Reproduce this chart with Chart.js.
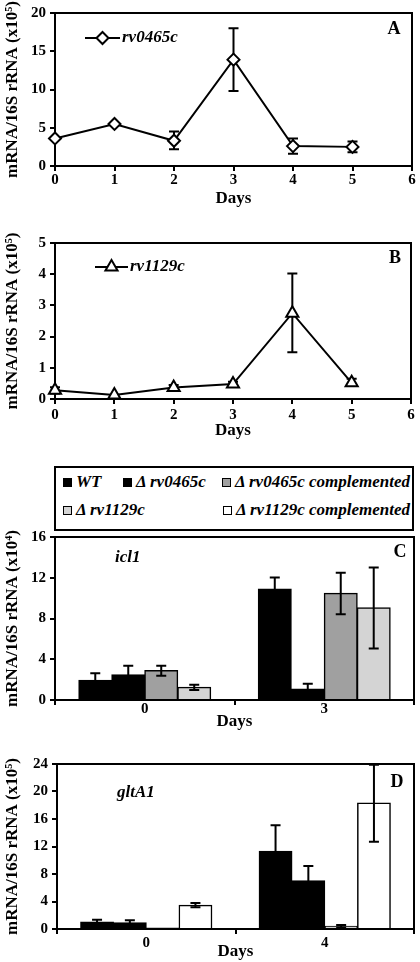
<!DOCTYPE html>
<html>
<head>
<meta charset="utf-8">
<title>mRNA/16S rRNA expression</title>
<script src="https://cdn.jsdelivr.net/npm/chart.js"></script>
<style>
    * { margin: 0; padding: 0; box-sizing: border-box; }
    body {
        width: 420px;
        height: 962px;
        background: #fff;
        position: relative;
        overflow: hidden;
        font-family: "Liberation Serif", serif;
    }
    canvas { position: absolute; left: 0; }
    #legendC {
        position: absolute;
        left: 54px;
        top: 466px;
        width: 360px;
        height: 65px;
        border: 2px solid #000;
        background: #fff;
        z-index: 2;
    }
    .item {
        position: absolute;
        display: flex;
        align-items: center;
        font: italic bold 17px "Liberation Serif", serif;
        line-height: 20px;
        white-space: nowrap;
        color: #000;
    }
    .sw { width: 9px; height: 9px; border: 1px solid #000; margin-right: 4px; }
</style>
</head>
<body>
    <canvas id="chartA" width="420" height="210" style="top:0"></canvas>
    <canvas id="chartB" width="420" height="226" style="top:215px"></canvas>
    <div id="legendC"></div>
    <canvas id="chartC" width="420" height="211" style="top:524px"></canvas>
    <canvas id="chartD" width="420" height="222" style="top:740px"></canvas>

<script>
    // --- data ---
    const days = [0, 1, 2, 3, 4, 5];
    const rv0465cMean = [3.6, 5.5, 3.3, 13.9, 2.6, 2.5];
    const rv0465cHigh = [null, null, 4.5, 18.0, 3.6, 3.2];
    const rv0465cLow  = [null, null, 2.2, 9.8, 1.6, 1.8];

    const rv1129cMean = [0.28, 0.13, 0.37, 0.48, 2.75, 0.52];
    const rv1129cHigh = [0.38, null, 0.45, 0.55, 4.02, 0.65];
    const rv1129cLow  = [0.18, null, 0.30, 0.42, 1.50, 0.45];

    const strains = ['WT', 'Δ rv0465c', 'Δ rv0465c complemented', 'Δ rv1129c', 'Δ rv1129c complemented'];

    // icl1 (x10^4), series index into strains
    const icl1Days = ['0', '3'];
    const icl1Series = [0, 1, 2, 3];
    const icl1Mean = [[1.94, 10.9], [2.48, 1.08], [2.89, 10.48], [1.24, 9.05]];
    const icl1High = [[2.63, 12.03], [3.37, 1.59], [3.37, 12.48], [1.49, 13.0]];
    const icl1Low  = [[1.25, 9.8], [1.6, 0.57], [2.38, 8.41], [0.98, 5.05]];

    // gltA1 (x10^5)
    const gltA1Days = ['0', '4'];
    const gltA1Series = [0, 1, 3, 4];
    const gltA1Mean = [[1.02, 11.3], [0.92, 7.03], [0.15, 0.39], [3.44, 18.33]];
    const gltA1High = [[1.36, 15.08], [1.26, 9.16], [null, 0.6], [3.78, 23.9]];
    const gltA1Low  = [[0.68, 7.5], [0.58, 4.9], [null, 0.2], [3.15, 12.7]];

    // --- styles ---
    const strainColors = ['#000000', '#000000', '#a0a0a0', '#d4d4d4', '#ffffff'];
    const SERIF = "'Liberation Serif', serif";
    Chart.defaults.font.family = SERIF;
    Chart.defaults.color = '#000';

    const tickFont = { family: SERIF, size: 15, weight: 'bold' };
    const titleFont = { family: SERIF, size: 17, weight: 'bold' };
    const yTitleFont = { family: SERIF, size: 17, weight: 'bold' };
    const italicFont = 'italic bold 17px ' + SERIF;
    const letterFont = 'bold 18px ' + SERIF;

    // box round the plot area
    const framePlugin = {
        id: 'frame',
        beforeDatasetsDraw(chart) {
            const { ctx, chartArea: a } = chart;
            ctx.save();
            ctx.strokeStyle = '#000';
            ctx.lineWidth = 2;
            ctx.strokeRect(a.left, a.top, a.right - a.left, a.bottom - a.top);
            ctx.restore();
        }
    };

    function drawErrors(chart, opts) {
        const { ctx } = chart;
        const y = chart.scales.y;
        ctx.save();
        ctx.strokeStyle = '#000';
        ctx.lineWidth = 2;
        chart.data.datasets.forEach((ds, i) => {
            if (!ds.errHigh) return;
            chart.getDatasetMeta(i).data.forEach((el, j) => {
                const hi = ds.errHigh[j], lo = ds.errLow[j];
                if (hi == null) return;
                const yh = y.getPixelForValue(hi), yl = y.getPixelForValue(lo);
                ctx.beginPath();
                ctx.moveTo(el.x, yh); ctx.lineTo(el.x, yl);
                ctx.moveTo(el.x - opts.cap, yh); ctx.lineTo(el.x + opts.cap, yh);
                ctx.moveTo(el.x - opts.cap, yl); ctx.lineTo(el.x + opts.cap, yl);
                ctx.stroke();
            });
        });
        ctx.restore();
    }

    const errorBarPlugin = {
        id: 'errorBars',
        beforeDatasetsDraw(chart, args, opts) { if (opts.under) drawErrors(chart, opts); },
        afterDatasetsDraw(chart, args, opts) { if (!opts.under) drawErrors(chart, opts); }
    };

    // panel letter, gene name, line legend inside the plot
    const notesPlugin = {
        id: 'notes',
        afterDraw(chart, args, opts) {
            const { ctx, chartArea: a } = chart;
            ctx.save();
            ctx.fillStyle = '#000';
            ctx.textBaseline = 'middle';
            ctx.font = letterFont;
            ctx.textAlign = 'center';
            ctx.fillText(opts.letter, a.left + opts.letterAt[0], a.top + opts.letterAt[1]);
            ctx.textAlign = 'left';
            ctx.font = italicFont;
            ctx.fillText(opts.label, a.left + opts.labelAt[0], a.top + opts.labelAt[1]);
            if (opts.sample) {
                const s = opts.sample;
                const yy = a.top + s.y;
                ctx.strokeStyle = '#000';
                ctx.lineWidth = 2;
                ctx.beginPath();
                ctx.moveTo(a.left + s.x0, yy);
                ctx.lineTo(a.left + s.x1, yy);
                ctx.stroke();
                ctx.fillStyle = '#fff';
                Chart.helpers.drawPoint(ctx, { pointStyle: s.style, radius: s.radius, borderWidth: 2, rotation: 0 },
                    a.left + (s.x0 + s.x1) / 2, yy);
            }
            ctx.restore();
        }
    };

    function axisCommon(extra) {
        return Object.assign({
            grid: { drawOnChartArea: false, tickLength: 5, lineWidth: 2, color: '#000' },
            border: { color: '#000', width: 2 }
        }, extra);
    }

    function lineChart(id, mean, high, low, opt) {
        return new Chart(document.getElementById(id), {
            type: 'line',
            data: {
                datasets: [{
                    label: opt.name,
                    data: days.map((d, i) => ({ x: d, y: mean[i] })),
                    errHigh: high,
                    errLow: low,
                    borderColor: '#000',
                    borderWidth: 2,
                    pointStyle: opt.pointStyle,
                    pointRadius: opt.pointRadius,
                    pointBackgroundColor: '#fff',
                    pointBorderColor: '#000',
                    pointBorderWidth: 2,
                    tension: 0,
                    clip: false
                }]
            },
            options: {
                responsive: false,
                animation: false,
                layout: { padding: { top: opt.top, right: 6, left: 0, bottom: 0 } },
                plugins: {
                    legend: { display: false },
                    tooltip: { enabled: false },
                    errorBars: { under: true, cap: 5 },
                    notes: opt.notes
                },
                scales: {
                    x: axisCommon({
                        type: 'linear', min: 0, max: 6,
                        ticks: { stepSize: 1, font: tickFont, color: '#000', padding: opt.xPad },
                        title: { display: true, text: 'Days', font: titleFont, color: '#000', padding: { top: 0, bottom: opt.daysPad } },
                        afterFit: s => { s.height = opt.xHeight; }
                    }),
                    y: axisCommon({
                        min: 0, max: opt.yMax,
                        ticks: { stepSize: opt.yStep, font: tickFont, color: '#000', padding: 4 },
                        title: { display: true, text: opt.yTitle, font: yTitleFont, color: '#000', padding: { top: 2.5, bottom: 0 } },
                        afterFit: s => { s.width = 55; }
                    })
                }
            },
            plugins: [framePlugin, errorBarPlugin, notesPlugin]
        });
    }

    function barChart(id, labels, series, mean, high, low, opt) {
        return new Chart(document.getElementById(id), {
            type: 'bar',
            data: {
                labels: labels,
                datasets: series.map((s, k) => ({
                    label: strains[s],
                    data: mean[k],
                    errHigh: high[k],
                    errLow: low[k],
                    backgroundColor: strainColors[s],
                    borderColor: '#000',
                    borderWidth: 1.5,
                    inflateAmount: 0.5,
                    barPercentage: 1.0,
                    categoryPercentage: 0.735
                }))
            },
            options: {
                responsive: false,
                animation: false,
                layout: { padding: { top: opt.top, right: 6, left: 0, bottom: 0 } },
                plugins: {
                    legend: { display: false },
                    tooltip: { enabled: false },
                    errorBars: { under: false, cap: 5 },
                    notes: opt.notes
                },
                scales: {
                    x: axisCommon({
                        grid: { drawOnChartArea: false, tickLength: 5, lineWidth: 2, color: '#000', offset: true },
                        ticks: { font: tickFont, color: '#000', padding: opt.xPad },
                        title: { display: true, text: 'Days', font: titleFont, color: '#000', padding: { top: 0, bottom: opt.daysPad } },
                        afterFit: s => { s.height = opt.xHeight; }
                    }),
                    y: axisCommon({
                        min: 0, max: opt.yMax,
                        ticks: { stepSize: opt.yStep, font: tickFont, color: '#000', padding: 4 },
                        title: { display: true, text: opt.yTitle, font: yTitleFont, color: '#000', padding: { top: 2.5, bottom: 0 } },
                        afterFit: s => { s.width = opt.yWidth; }
                    })
                }
            },
            plugins: [framePlugin, errorBarPlugin, notesPlugin]
        });
    }

    // A
    lineChart('chartA', rv0465cMean, rv0465cHigh, rv0465cLow, {
        name: 'rv0465c', pointStyle: 'rectRot', pointRadius: 6,
        top: 8, xHeight: 44, xPad: 0.5, daysPad: 1, yMax: 20, yStep: 5,
        yTitle: 'mRNA/16S rRNA (x10⁵)',
        notes: { letter: 'A', letterAt: [339, 16], label: 'rv0465c', labelAt: [67, 25],
                 sample: { x0: 30, x1: 65, y: 25, style: 'rectRot', radius: 6 } }
    });

    // B
    lineChart('chartB', rv1129cMean, rv1129cHigh, rv1129cLow, {
        name: 'rv1129c', pointStyle: 'triangle', pointRadius: 7,
        top: 28, xHeight: 42, xPad: 1.7, daysPad: 0, yMax: 5, yStep: 1,
        yTitle: 'mRNA/16S rRNA (x10⁵)',
        notes: { letter: 'B', letterAt: [340, 15], label: 'rv1129c', labelAt: [75, 24],
                 sample: { x0: 40, x1: 73, y: 24, style: 'triangle', radius: 7 } }
    });

    // C
    barChart('chartC', icl1Days, icl1Series, icl1Mean, icl1High, icl1Low, {
        top: 7, xHeight: 35, xPad: -4.7, daysPad: 3, yMax: 16, yStep: 4, yWidth: 55,
        yTitle: 'mRNA/16S rRNA (x10⁴)',
        notes: { letter: 'C', letterAt: [345, 15], label: 'icl1', labelAt: [60, 21] }
    });

    // D
    barChart('chartD', gltA1Days, gltA1Series, gltA1Mean, gltA1High, gltA1Low, {
        top: 24, xHeight: 33, xPad: 0, daysPad: 0, yMax: 24, yStep: 4, yWidth: 57,
        yTitle: 'mRNA/16S rRNA (x10⁵)',
        notes: { letter: 'D', letterAt: [340, 18], label: 'gltA1', labelAt: [60, 29] }
    });

    // legend box above panel C
    const legendSpots = [[7, 4], [67, 4], [166, 4], [7, 32], [167, 32]];
    const legendEl = document.getElementById('legendC');
    strains.forEach((name, i) => {
        const item = document.createElement('div');
        item.className = 'item';
        item.style.left = legendSpots[i][0] + 'px';
        item.style.top = legendSpots[i][1] + 'px';
        const sw = document.createElement('span');
        sw.className = 'sw';
        sw.style.background = strainColors[i];
        item.appendChild(sw);
        item.appendChild(document.createTextNode(name));
        legendEl.appendChild(item);
    });
</script>
</body>
</html>
